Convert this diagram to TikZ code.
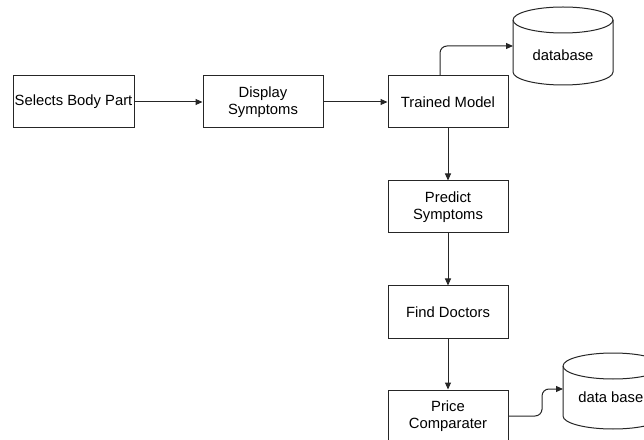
\documentclass[tikz,border=0pt]{standalone}
\usepackage{fontspec}
\setmainfont{Liberation Sans}
\usetikzlibrary{arrows.meta}
\begin{document}
\begin{tikzpicture}[x=1pt,y=1pt,
  box/.style={draw=black!85, line width=1pt, fill=white, minimum width=120pt, minimum height=52pt, inner sep=0pt, align=center, font=\fontsize{14.8}{17}\selectfont},
  conn/.style={draw=black!85, line width=1pt, -{Triangle[length=7pt,width=6pt]}},
  cyl/.style={draw=black!85, line width=1pt, fill=white},
  lbl/.style={inner sep=0pt, font=\fontsize{14.8}{17}\selectfont}]
\useasboundingbox (0,0) rectangle (644,439);
\node[box, minimum width=121pt] (sel) at (73.5,337) {Selects Body Part};
\node[box] (disp) at (263,337) {Display\\Symptoms};
\node[box] (tm) at (448,337) {Trained Model};
\node[box] (pred) at (448,232) {Predict\\Symptoms};
\node[box] (find) at (448,127) {Find Doctors};
\node[box] (price) at (448,23) {Price\\Comparater};
% database 1
\path[cyl] (513,419) -- (513,367) arc (180:360:50 and 13) -- (613,419) arc (0:180:50 and 13) -- cycle;
\draw[black!85, line width=1pt] (513,419) arc (180:360:50 and 13);
\node[lbl] (db1) at (563,384) {database};
\coordinate (db1w) at (513,393);
% database 2
\path[cyl] (563,73) -- (563,23) arc (180:360:50 and 13) -- (663,73) arc (0:180:50 and 13) -- cycle;
\draw[black!85, line width=1pt] (563,73) arc (180:360:50 and 13);
\node[lbl, anchor=east] (db2) at (643.5,42) {data base};
\coordinate (db2w) at (563,50);
% connectors
\draw[conn] (sel) -- (disp);
\draw[conn] (disp) -- (tm);
\draw[conn, rounded corners=7pt] ([xshift=-8pt]tm.north) |- (db1w);
\draw[conn] (tm) -- (pred);
\draw[conn] (pred) -- (find);
\draw[conn] (find) -- (price);
\draw[conn, rounded corners=7pt] (price.east) -| (542,36.5) |- (db2w);
\end{tikzpicture}
\end{document}
